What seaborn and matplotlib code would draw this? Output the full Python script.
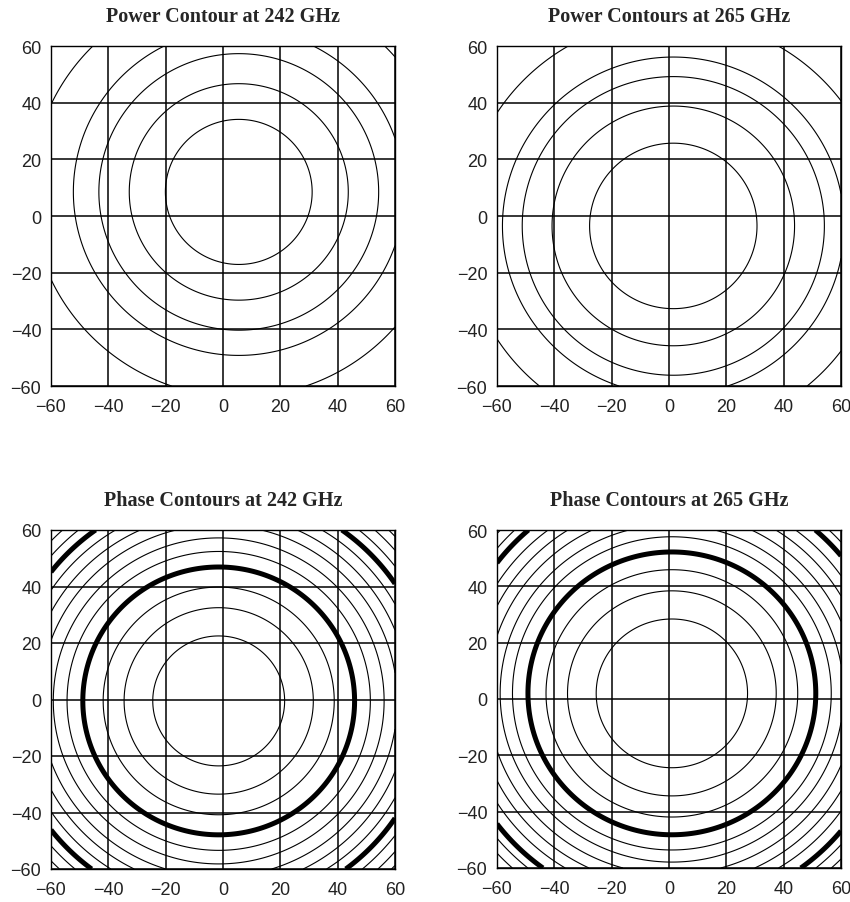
import numpy as np
import matplotlib
matplotlib.use("Agg")
import matplotlib.pyplot as plt
import seaborn as sns

# panel titles, in reading order
titles = ["Power Contour at 242 GHz", "Power Contours at 265 GHz",
          "Phase Contours at 242 GHz", "Phase Contours at 265 GHz"]

# ring centres
centre_x = [5.5, 1.5, -1.5, 1.0]
centre_y = [8.5, -3.5, -0.5, 2.0]

# contour ring radii (same units as the axes)
power_242_radii = [25.6, 38.2, 48.8, 57.7, 72.4]
power_265_radii = [29.2, 42.3, 52.7, 59.6, 73.3]
phase_242_radii = [23.0, 33.0, 40.3, 47.4, 52.9, 57.7, 62.3, 66.4, 70.4, 74.2, 77.8, 81.4, 84.7]
phase_265_radii = [26.4, 36.4, 43.9, 50.2, 55.6, 59.9, 64.3, 68.4, 72.3, 76.6, 79.8, 83.3, 86.7]

# rings where the phase wraps round (drawn heavy)
phase_242_heavy = [47.4, 74.2]
phase_265_heavy = [50.2, 76.6]

ticks = [-60, -40, -20, 0, 20, 40, 60]

sns.set_style("white")
plt.rcParams['font.family'] = ['Liberation Sans', 'DejaVu Sans']

fig = plt.figure(figsize=(8.5, 9.03), dpi=100)
W, H = 850.0, 903.0
# axes boxes in pixels: left, top, right, bottom
boxes = [(51, 47, 395, 387), (497, 47, 841, 387),
         (51, 531, 395, 870), (497, 531, 841, 869)]
radii_all = [power_242_radii, power_265_radii, phase_242_radii, phase_265_radii]
heavy_all = [[], [], phase_242_heavy, phase_265_heavy]

grid = np.arange(-60, 60.01, 0.5)
X, Y = np.meshgrid(grid, grid)

for i, (l, t, r, b) in enumerate(boxes):
    ax = fig.add_axes([l / W, (H - b) / H, (r - l) / W, (b - t) / H])
    dist = np.hypot(X - centre_x[i], Y - centre_y[i])
    levels = radii_all[i]
    widths = [3.6 if lv in heavy_all[i] else 0.8 for lv in levels]
    ax.contour(X, Y, dist, levels=levels, colors='black', linewidths=widths)

    ax.set_xlim(-60, 60)
    ax.set_ylim(-60, 60)
    ax.set_xticks(ticks)
    ax.set_yticks(ticks)
    ax.grid(True, color='black', linewidth=1.1)
    ax.set_axisbelow(False)
    for s in ax.spines.values():
        s.set_color('black')
        s.set_linewidth(1.0)
        s.set_visible(True)
    ax.tick_params(axis='both', which='both', direction='out', length=6,
                   width=1.0, color='black', labelsize=13, labelcolor='#222222')
    ax.tick_params(axis='x', pad=3)
    ax.tick_params(axis='y', pad=1)
    ax.text(0.5, 1 + 30.0 / (b - t), titles[i], transform=ax.transAxes,
            ha='center', va='center', fontsize=14.5, fontweight='bold',
            family=['Liberation Serif', 'DejaVu Serif'])

fig.savefig('out.png', dpi=100, facecolor='white')
